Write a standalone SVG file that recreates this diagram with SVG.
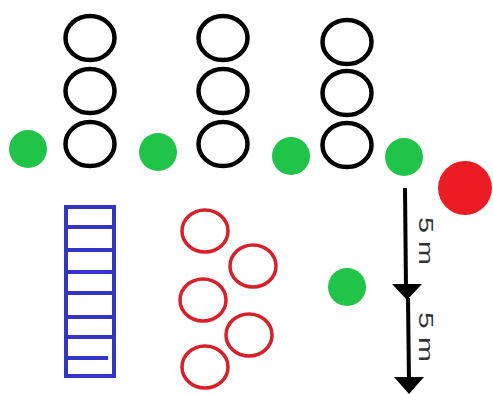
<svg xmlns="http://www.w3.org/2000/svg" width="493" height="394" viewBox="0 0 493 394">
<style>
.bk{fill:none;stroke:#000;stroke-width:4.5}
.rd{fill:none;stroke:#d7202a;stroke-width:3.5}
.gr{fill:#1fc448}
.bl{fill:none;stroke:#3535c4;stroke-width:4}
.ar{stroke:#000;stroke-width:4;fill:none}
.hd{fill:#000}
.lb{font-family:"Liberation Sans",Arial,sans-serif;font-size:21px;fill:#333}
</style>
<rect width="493" height="394" fill="#fff"/>
<g id="column1">
<ellipse class="bk" cx="90" cy="38" rx="24.5" ry="22"/>
<ellipse class="bk" cx="90" cy="91" rx="24.5" ry="22"/>
<ellipse class="bk" cx="90" cy="144" rx="24.5" ry="22"/>
</g>
<g id="column2">
<ellipse class="bk" cx="223" cy="38" rx="24.5" ry="22"/>
<ellipse class="bk" cx="223" cy="91" rx="24.5" ry="22"/>
<ellipse class="bk" cx="223" cy="144" rx="24.5" ry="22"/>
</g>
<g id="column3">
<ellipse class="bk" cx="347" cy="42" rx="24.5" ry="22"/>
<ellipse class="bk" cx="347" cy="93" rx="24.5" ry="22"/>
<ellipse class="bk" cx="347" cy="145" rx="24.5" ry="22"/>
</g>
<g id="green1"><circle class="gr" cx="28" cy="149" r="19"/></g>
<g id="green2"><circle class="gr" cx="158" cy="152" r="19"/></g>
<g id="green3"><circle class="gr" cx="291" cy="156" r="19"/></g>
<g id="green4"><circle class="gr" cx="404" cy="157" r="19"/></g>
<g id="green5"><circle class="gr" cx="347" cy="287" r="19"/></g>
<g id="red-dot"><circle cx="465" cy="188" r="27" fill="#ec1c24"/></g>
<g id="ladder">
<rect class="bl" x="66" y="207" width="48" height="169"/>
<line class="bl" x1="66" y1="227" x2="114" y2="227"/>
<line class="bl" x1="66" y1="250" x2="114" y2="250"/>
<line class="bl" x1="66" y1="272" x2="114" y2="272"/>
<line class="bl" x1="66" y1="293" x2="114" y2="293"/>
<line class="bl" x1="66" y1="317" x2="114" y2="317"/>
<line class="bl" x1="66" y1="337" x2="114" y2="337"/>
<line class="bl" x1="66" y1="358" x2="108" y2="358"/>
</g>
<g id="red-circles">
<ellipse class="rd" cx="205" cy="231" rx="23" ry="21"/>
<ellipse class="rd" cx="253" cy="266" rx="23" ry="21"/>
<ellipse class="rd" cx="203" cy="300" rx="23" ry="21"/>
<ellipse class="rd" cx="249" cy="335" rx="23" ry="21"/>
<ellipse class="rd" cx="205" cy="367" rx="23" ry="21"/>
</g>
<g id="connectors">
<line class="ar" x1="405" y1="188" x2="406" y2="290"/>
<polygon class="hd" points="392,284 422,284 407,300"/>
<line class="ar" x1="408" y1="298" x2="409" y2="384"/>
<polygon class="hd" points="394,377 424,377 409,394"/>
</g>
<g id="labels">
<text class="lb" transform="translate(419,217) rotate(90)" textLength="48" lengthAdjust="spacingAndGlyphs">5 m</text>
<text class="lb" transform="translate(419,312) rotate(90)" textLength="50" lengthAdjust="spacingAndGlyphs">5 m</text>
</g>
</svg>
